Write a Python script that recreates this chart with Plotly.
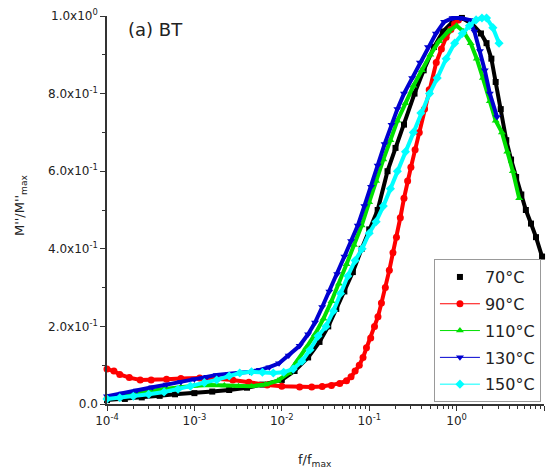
import plotly.graph_objects as go

labels = ["70°C", "90°C", "110°C", "130°C", "150°C"]
colors = ["#000000", "#ff0000", "#00e000", "#0000d0", "#00ffff"]
symbols = ["square", "circle", "triangle-up", "triangle-down", "diamond"]

f_70 = [1.0e-4, 1.6e-4, 2.5e-4, 4e-4, 6e-4, 1e-3, 1.6e-3, 2.5e-3, 4e-3, 6e-3, 1e-2, 1.4e-2, 2e-2,
        2.7e-2, 3.4e-2, 4.2e-2, 5.2e-2, 6.5e-2, 8.2e-2, 0.1, 0.125, 0.162, 0.2, 0.25, 0.33, 0.42,
        0.55, 0.7, 0.9, 1.15, 1.5, 1.9, 2.2, 2.5, 2.8, 3.2, 3.7, 4.2, 4.8, 5.5, 6.2, 7.1, 8.1, 9.5]
v_70 = [0.010, 0.013, 0.017, 0.021, 0.025, 0.028, 0.032, 0.036, 0.042, 0.050, 0.062, 0.085, 0.12,
        0.16, 0.20, 0.245, 0.29, 0.34, 0.40, 0.45, 0.50, 0.60, 0.66, 0.72, 0.80, 0.86,
        0.92, 0.96, 0.985, 0.995, 0.98, 0.955, 0.93, 0.89, 0.83, 0.76, 0.68, 0.63, 0.585, 0.54, 0.50, 0.465, 0.43, 0.38]

f_90 = [1e-4, 1.2e-4, 1.4e-4, 1.8e-4, 2.4e-4, 3.2e-4, 4.8e-4, 7e-4, 1.15e-3, 1.8e-3, 2.75e-3, 4.2e-3,
        6.8e-3, 1e-2, 1.6e-2, 2.2e-2, 2.9e-2, 3.7e-2, 4.6e-2, 5.5e-2, 6.2e-2, 6.9e-2, 7.7e-2, 8.5e-2,
        9.3e-2, 0.104, 0.115, 0.126, 0.138, 0.153, 0.17, 0.187, 0.205, 0.227, 0.25, 0.275, 0.3, 0.335,
        0.374, 0.43, 0.486, 0.585, 0.67, 0.76, 0.86, 0.95, 1.05]
v_90 = [0.090, 0.085, 0.076, 0.068, 0.062, 0.062, 0.064, 0.066, 0.067, 0.065, 0.062, 0.056,
        0.049, 0.046, 0.044, 0.044, 0.045, 0.048, 0.053, 0.060, 0.070, 0.085, 0.10, 0.12,
        0.145, 0.17, 0.20, 0.225, 0.26, 0.30, 0.345, 0.39, 0.43, 0.48, 0.53, 0.575, 0.61, 0.655,
        0.70, 0.76, 0.81, 0.88, 0.915, 0.945, 0.965, 0.98, 0.99]

f_110 = [1e-4, 1.4e-4, 2e-4, 3e-4, 4.5e-4, 7e-4, 1e-3, 1.5e-3, 2.2e-3, 3.2e-3, 4.5e-3, 6.5e-3, 9e-3,
         1.2e-2, 1.5e-2, 1.9e-2, 2.4e-2, 3e-2, 3.7e-2, 4.5e-2, 5.5e-2, 6.7e-2, 8.2e-2, 0.1, 0.12,
         0.145, 0.175, 0.21, 0.26, 0.32, 0.4, 0.5, 0.63, 0.8, 1.0, 1.2, 1.45, 1.7, 2.0, 2.4, 2.8,
         3.3, 3.8, 4.4, 5.2]
v_110 = [0.018, 0.022, 0.027, 0.033, 0.039, 0.044, 0.047, 0.049, 0.048, 0.046, 0.046, 0.050, 0.060,
         0.080, 0.11, 0.145, 0.18, 0.22, 0.265, 0.31, 0.36, 0.41, 0.46, 0.52, 0.575,
         0.63, 0.68, 0.73, 0.775, 0.82, 0.86, 0.90, 0.935, 0.96, 0.975, 0.96, 0.93, 0.89, 0.84, 0.78, 0.73,
         0.70, 0.65, 0.60, 0.53]

f_130 = [1.0e-4, 1.5e-4, 2.2e-4, 3.3e-4, 4.8e-4, 7e-4, 1e-3, 1.4e-3, 1.8e-3, 2.5e-3, 3.3e-3, 4.3e-3,
         5.6e-3, 7.2e-3, 9.3e-3, 1.2e-2, 1.6e-2, 2.0e-2, 2.4e-2, 2.9e-2, 3.5e-2, 4.3e-2, 5.2e-2,
         6.2e-2, 7.4e-2, 8.8e-2, 0.105, 0.125, 0.15, 0.18, 0.21, 0.25, 0.31, 0.38, 0.47, 0.58, 0.72,
         0.9, 1.1, 1.4, 1.6, 1.85, 2.1, 2.4, 2.9]
v_130 = [0.020, 0.027, 0.035, 0.043, 0.050, 0.057, 0.064, 0.070, 0.075, 0.078, 0.080, 0.083,
         0.088, 0.095, 0.105, 0.125, 0.150, 0.180, 0.210, 0.250, 0.29, 0.335, 0.38,
         0.42, 0.46, 0.51, 0.56, 0.615, 0.67, 0.72, 0.76, 0.80, 0.84, 0.88, 0.92, 0.955, 0.985,
         0.995, 0.995, 0.99, 0.96, 0.91, 0.86, 0.80, 0.74]

f_150 = [1e-4, 1.4e-4, 2e-4, 3e-4, 4.5e-4, 6.5e-4, 9e-4, 1.3e-3, 1.8e-3, 2.5e-3, 3.3e-3, 4.5e-3,
         6e-3, 8e-3, 1.05e-2, 1.35e-2, 1.7e-2, 2.1e-2, 2.6e-2, 3.2e-2, 3.9e-2, 4.7e-2, 5.7e-2,
         6.9e-2, 8.3e-2, 0.1, 0.12, 0.145, 0.175, 0.21, 0.26, 0.32, 0.39, 0.49, 0.6, 0.76, 0.95,
         1.16, 1.4, 1.67, 1.95, 2.2, 2.6, 3.06]
v_150 = [0.013, 0.016, 0.020, 0.025, 0.031, 0.038, 0.046, 0.055, 0.062, 0.072, 0.080, 0.083,
         0.082, 0.080, 0.082, 0.090, 0.11, 0.14, 0.175, 0.20, 0.24, 0.285, 0.33,
         0.37, 0.40, 0.44, 0.47, 0.51, 0.555, 0.60, 0.65, 0.70, 0.75, 0.80, 0.84, 0.89, 0.93,
         0.955, 0.975, 0.99, 0.995, 0.995, 0.97, 0.93]

y_tickvals = [0.0, 0.2, 0.4, 0.6, 0.8, 1.0]
y_ticktext = ["0.0", "2.0x10<sup>-1</sup>", "4.0x10<sup>-1</sup>", "6.0x10<sup>-1</sup>",
              "8.0x10<sup>-1</sup>", "1.0x10<sup>0</sup>"]
x_tickvals = [1e-4, 1e-3, 1e-2, 1e-1, 1e0, 1e1]
x_ticktext = ["10<sup>-4</sup>", "10<sup>-3</sup>", "10<sup>-2</sup>", "10<sup>-1</sup>",
              "10<sup>0</sup>", "10<sup>1</sup>"]

series_f = [f_70, f_90, f_110, f_130, f_150]
series_v = [v_70, v_90, v_110, v_130, v_150]

fig = go.Figure()
for i, (lab, fx, vy) in enumerate(zip(labels, series_f, series_v)):
    fig.add_trace(go.Scatter(x=fx, y=vy, mode="lines", showlegend=False,
                             line=dict(color=colors[i], width=4), hoverinfo="skip",
                             cliponaxis=False, legendgroup=lab))
    msize = 6 if symbols[i] == "square" else 7
    fig.add_trace(go.Scatter(
        x=fx, y=vy, name=lab, legendgroup=lab,
        mode="markers" if i == 0 else "lines+markers",
        line=dict(color=colors[i], width=1),
        marker=dict(symbol=symbols[i], size=msize, color=colors[i], line=dict(width=0)),
        cliponaxis=False))

font_family = "DejaVu Sans, Arial, sans-serif"

fig.update_layout(
    width=554, height=475,
    margin=dict(l=107, r=10, t=16, b=71, autoexpand=False),
    paper_bgcolor="white", plot_bgcolor="white",
    font=dict(family=font_family, color="#222222"),
    xaxis=dict(type="log", range=[-4, 1], tickvals=x_tickvals, ticktext=x_ticktext,
               automargin=False,
               showgrid=False, zeroline=False, showline=True, linecolor="#333333", linewidth=1.5,
               ticks="outside", ticklen=5, tickwidth=1.2, tickcolor="#333333",
               tickfont=dict(size=12, color="#222222"),
               minor=dict(ticks="outside", ticklen=3, tickwidth=1, tickcolor="#333333",
                          dtick="D1", showgrid=False)),
    yaxis=dict(range=[0, 1.0], tickvals=y_tickvals, ticktext=y_ticktext,
               automargin=False,
               showgrid=False, zeroline=False, showline=True, linecolor="#333333", linewidth=1.5,
               ticks="outside", ticklen=5, tickwidth=1.2, tickcolor="#333333",
               tickfont=dict(size=12, color="#222222"),
               minor=dict(ticks="outside", ticklen=3, tickwidth=1, tickcolor="#333333",
                          dtick=0.1, showgrid=False)),
    legend=dict(x=0.993, y=0.005, xanchor="right", yanchor="bottom",
                bgcolor="white", bordercolor="#999999", borderwidth=1,
                font=dict(size=16, color="#222222", family=font_family),
                tracegroupgap=3, itemwidth=40),
    annotations=[
        dict(text="(a) BT", xref="paper", yref="paper", x=(126 - 107) / 437, y=(404 - 30) / 388,
             xanchor="left", yanchor="middle", showarrow=False,
             font=dict(size=18, color="#222222")),
        dict(text="M''/M''<sub>max</sub>", xref="paper", yref="paper",
             x=(20 - 107) / 437, y=(404 - 205) / 388, textangle=-90,
             xanchor="center", yanchor="middle", showarrow=False,
             font=dict(size=13, color="#222222")),
        dict(text="f/f<sub>max</sub>", xref="paper", yref="paper",
             x=(315 - 107) / 437, y=(404 - 460) / 388,
             xanchor="center", yanchor="middle", showarrow=False,
             font=dict(size=13, color="#222222")),
    ],
)

fig.write_html("out.html", config={"displayModeBar": False},
               post_script="document.body.style.margin='0px';")
